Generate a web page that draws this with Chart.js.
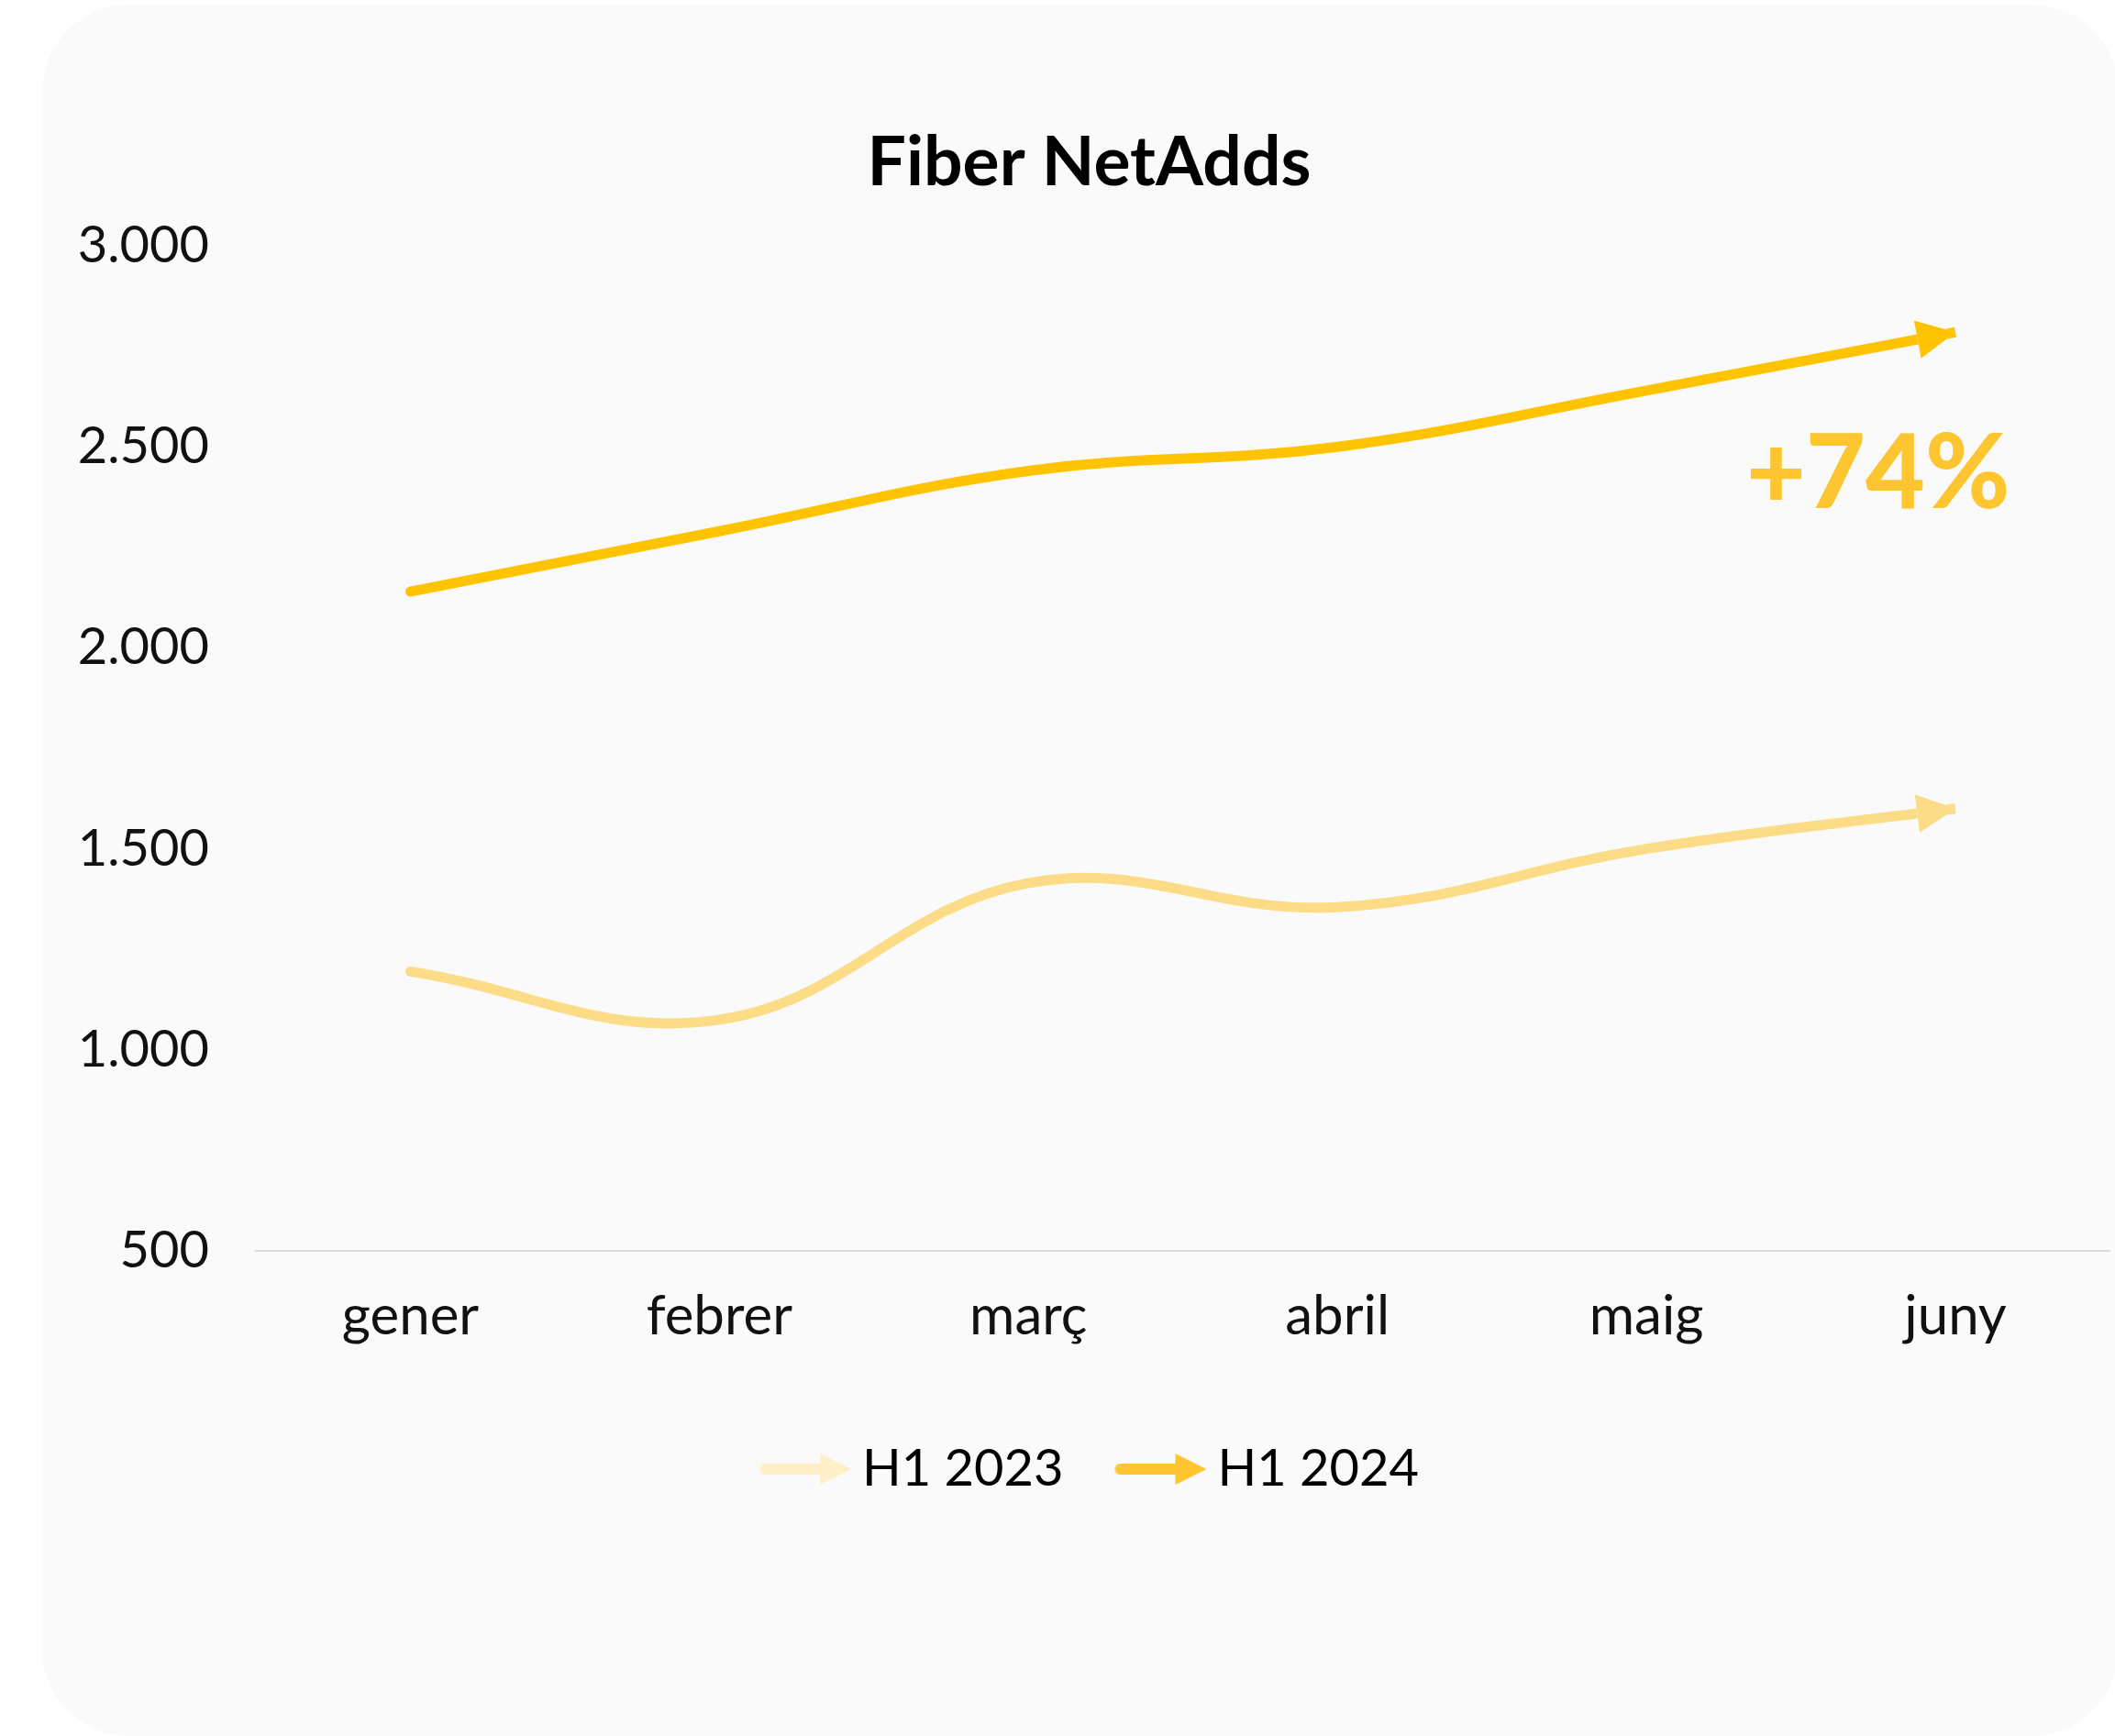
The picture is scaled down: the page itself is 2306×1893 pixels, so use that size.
<!DOCTYPE html>
<html>
<head>
<meta charset="utf-8">
<title>Fiber NetAdds</title>
<script src="https://cdn.jsdelivr.net/npm/chart.js@4.4.1/dist/chart.umd.min.js"></script>
<style>
  html, body { margin: 0; padding: 0; background: #fff; }
  body { width: 2306px; height: 1893px; position: relative; overflow: hidden; }
  #card { position: absolute; left: 46px; top: 5px; width: 2264px; height: 1888px; background: #fafafa; border-radius: 95px; }
  #chart { position: absolute; left: 0; top: 0; }
</style>
</head>
<body>
<div id="card"></div>
<canvas id="chart" width="2306" height="1893"></canvas>
<script>
// data
const months = ['gener', 'febrer', 'març', 'abril', 'maig', 'juny'];
const h1_2023 = [1195, 1075, 1415, 1355, 1500, 1600];
const h1_2024 = [2140, 2290, 2440, 2500, 2640, 2785];
const seriesNames = ['H1 2023', 'H1 2024'];
const yMin = 500, yMax = 3000, yStep = 500;
const growthLabel = '+74%';

const lineColors = ['#FDDC87', '#FFC300'];
const legendColors = ['#FFEFC9', '#FFC530'];
const FONT = "Lato, 'Noto Sans', sans-serif";

// little arrow pictures for the legend
function makeLegendArrow(color) {
  const c = document.createElement('canvas');
  c.width = 168; c.height = 40;
  const g = c.getContext('2d');
  g.fillStyle = color;
  g.strokeStyle = color;
  g.lineWidth = 12;
  g.lineCap = 'round';
  g.beginPath();
  g.moveTo(48, 20);
  g.lineTo(112, 20);
  g.stroke();
  g.beginPath();
  g.moveTo(142, 20);
  g.lineTo(108, 3);
  g.lineTo(108, 37);
  g.closePath();
  g.fill();
  return c;
}
const legendArrows = legendColors.map(makeLegendArrow);

const fmt = v => String(v).replace(/\B(?=(\d{3})+(?!\d))/g, '.');

function arrowGeom(meta) {
  const pts = meta.data;
  const last = pts[pts.length - 1];
  let dx = last.x - last.cp1x, dy = last.y - last.cp1y;
  if (!isFinite(dx) || !isFinite(dy) || (dx === 0 && dy === 0)) {
    const prev = pts[pts.length - 2];
    dx = last.x - prev.x; dy = last.y - prev.y;
  }
  const len = Math.hypot(dx, dy);
  const ux = dx / len, uy = dy / len;
  const head = 42, half = 21;
  const bx = last.x - ux * head, by = last.y - uy * head;
  return [
    [last.x, last.y],
    [bx - uy * half, by + ux * half],
    [bx + uy * half, by - ux * half]
  ];
}

// arrow heads at the end of each line + the growth label
const arrowEnds = {
  id: 'arrowEnds',
  beforeDatasetDraw(chart, args) {
    const ctx = chart.ctx;
    const tri = arrowGeom(args.meta);
    ctx.save();
    ctx.beginPath();
    ctx.rect(0, 0, chart.width, chart.height);
    ctx.moveTo(tri[0][0], tri[0][1]);
    ctx.lineTo(tri[1][0], tri[1][1]);
    ctx.lineTo(tri[2][0], tri[2][1]);
    ctx.closePath();
    ctx.clip('evenodd');
  },
  afterDatasetDraw(chart, args) {
    const ctx = chart.ctx;
    ctx.restore();
    const tri = arrowGeom(args.meta);
    ctx.save();
    ctx.fillStyle = lineColors[args.index];
    ctx.beginPath();
    ctx.moveTo(tri[0][0], tri[0][1]);
    ctx.lineTo(tri[1][0], tri[1][1]);
    ctx.lineTo(tri[2][0], tri[2][1]);
    ctx.closePath();
    ctx.fill();
    ctx.restore();
  },
  afterDraw(chart) {
    const ctx = chart.ctx;
    const x = chart.scales.x.getPixelForValue(4.75);
    const y = chart.scales.y.getPixelForValue(2430);
    ctx.save();
    ctx.fillStyle = '#FDC530';
    ctx.font = `900 112px ${FONT}`;
    ctx.textAlign = 'center';
    ctx.textBaseline = 'middle';
    ctx.fillText(growthLabel, x, y);
    ctx.restore();
  }
};

const ctx = document.getElementById('chart').getContext('2d');

new Chart(ctx, {
  type: 'line',
  data: {
    labels: months,
    datasets: [h1_2023, h1_2024].map((vals, i) => ({
      label: seriesNames[i],
      data: vals,
      borderColor: lineColors[i],
      backgroundColor: lineColors[i],
      borderWidth: 11,
      borderCapStyle: 'butt',
      tension: 0.4,
      fill: false,
      pointRadius: c => (c.dataIndex === 0 ? 5.5 : 0),
      pointBackgroundColor: lineColors[i],
      pointBorderWidth: 0
    }))
  },
  options: {
    responsive: false,
    animation: false,
    events: [],
    layout: { padding: { top: 0, left: 74, right: 5, bottom: 253 } },
    scales: {
      x: {
        offset: true,
        grid: { display: false, drawTicks: false },
        border: { display: true, color: '#dcdcdc', width: 2 },
        ticks: { padding: 36, color: '#111', font: { family: FONT, size: 60, weight: 400 } },
        afterFit: s => { s.height = 154; }
      },
      y: {
        min: yMin,
        max: yMax,
        grid: { display: false, drawTicks: false },
        border: { display: false },
        ticks: {
          stepSize: yStep,
          padding: 51,
          color: '#111',
          font: { family: FONT, size: 56, weight: 400 },
          callback: v => fmt(v)
        },
        afterFit: s => { s.width = 205; }
      }
    },
    plugins: {
      title: {
        display: true,
        text: 'Fiber NetAdds',
        color: '#000',
        font: { family: FONT, size: 75, weight: 'bold' },
        padding: { top: 133, bottom: 45 }
      },
      legend: {
        position: 'bottom',
        labels: {
          usePointStyle: true,
          pointStyleWidth: 84,
          padding: 56,
          color: '#000',
          font: { family: FONT, size: 56 },
          generateLabels(chart) {
            const items = Chart.defaults.plugins.legend.labels.generateLabels(chart);
            items.forEach((it, i) => { it.pointStyle = legendArrows[i]; });
            return items;
          }
        }
      },
      tooltip: { enabled: false }
    }
  },
  plugins: [arrowEnds]
});
</script>
</body>
</html>
